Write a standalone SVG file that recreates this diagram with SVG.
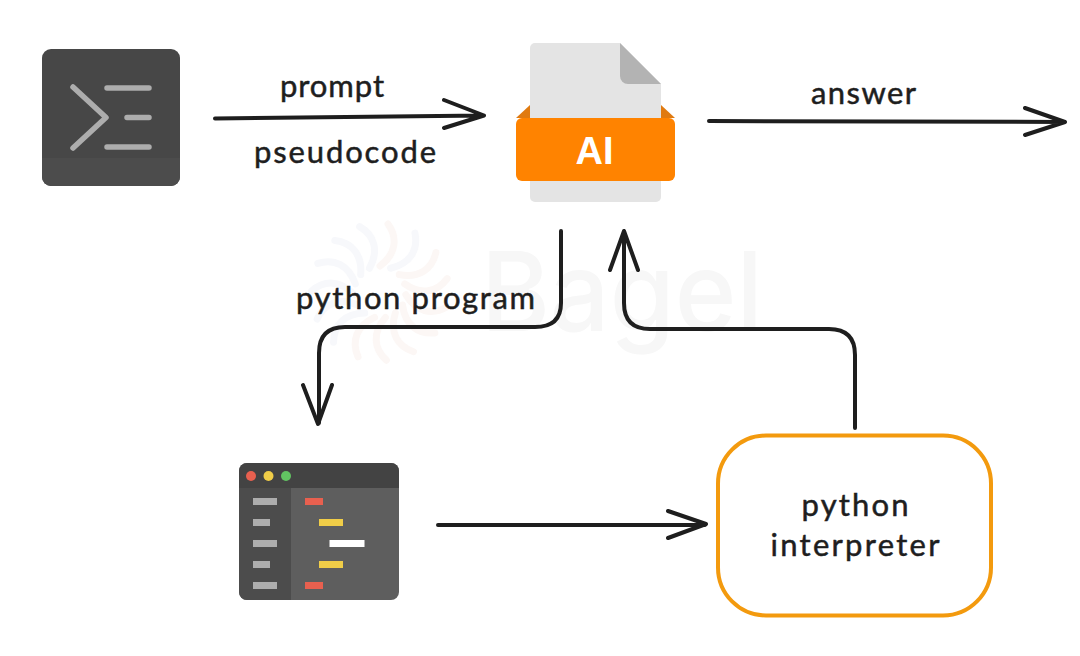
<svg xmlns="http://www.w3.org/2000/svg" width="1080" height="656" viewBox="0 0 1080 656">
  <style>
    .wire { fill: none; stroke: #1e1e1e; stroke-width: 4; stroke-linecap: round; stroke-linejoin: round; }
    .hand { font-family: "Lato", "Open Sans", sans-serif; font-size: 31px; fill: #1e1e1e; stroke: #1e1e1e; stroke-width: 0.5; }
    .glyph { fill: none; stroke: #adadad; stroke-width: 5.500; stroke-linecap: round; stroke-linejoin: round; }
    .side { fill: #adadad; }
    .red { fill: #e8604f; }
    .yellow { fill: #f0cd48; }
    .warm { stroke: #fcf7f5; }
    .cool { stroke: #f7f8fb; }
  </style>
  <defs>
    <!-- one blade of the swirl; copies are rotated about the origin -->
    <path id="blade" d="M0 -26C16 -38 18 -54 8 -68" fill="none" stroke-width="7" stroke-linecap="round"/>
  </defs>
  <rect width="1080" height="656" fill="#ffffff"/>

  <!-- faint maker's mark behind the flow -->
  <g id="watermark">
    <g transform="translate(380 292)">
      <use href="#blade" class="warm" transform="rotate(0)"/>
      <use href="#blade" class="cool" transform="rotate(24)"/>
      <use href="#blade" class="warm" transform="rotate(48)"/>
      <use href="#blade" class="warm" transform="rotate(72)"/>
      <use href="#blade" class="warm" transform="rotate(96)"/>
      <use href="#blade" class="warm" transform="rotate(120)"/>
      <use href="#blade" class="warm" transform="rotate(144)"/>
      <use href="#blade" class="warm" transform="rotate(168)"/>
      <use href="#blade" class="warm" transform="rotate(192)"/>
      <use href="#blade" class="cool" transform="rotate(216)"/>
      <use href="#blade" class="cool" transform="rotate(240)"/>
      <use href="#blade" class="cool" transform="rotate(264)"/>
      <use href="#blade" class="cool" transform="rotate(288)"/>
      <use href="#blade" class="cool" transform="rotate(312)"/>
      <use href="#blade" class="cool" transform="rotate(336)"/>
    </g>
    <text x="481" y="331" font-family="Inter, 'Liberation Sans', sans-serif" font-weight="500" font-size="110" fill="#f7f7f7" textLength="282" lengthAdjust="spacingAndGlyphs">Bagel</text>
  </g>

  <g id="terminal">
    <rect x="42" y="49" width="138" height="137" rx="9" fill="#474747"/>
    <path d="M42 158H180V177a9 9 0 0 1-9 9H51a9 9 0 0 1-9-9Z" fill="#4c4c4c"/>
    <path class="glyph" d="M73 87L106 117.500L73 148M107 88H149M127 117.500H149M107 147H149"/>
  </g>

  <g id="ai-file">
    <path d="M530 105L516 118H675L661 105Z" fill="#e07a10"/>
    <path d="M535 43H620L661 84V197a5 5 0 0 1-5 5H535a5 5 0 0 1-5-5V48a5 5 0 0 1 5-5Z" fill="#e4e4e4"/>
    <path d="M620 43L661 84H628a8 8 0 0 1-8-8Z" fill="#b3b3b3"/>
    <rect x="516" y="118" width="159" height="63" rx="6" fill="#ff8300"/>
    <text x="594.500" y="164" text-anchor="middle" font-family="'Liberation Sans', Arial, sans-serif" font-weight="700" font-size="38" fill="#ffffff">AI</text>
  </g>

  <g id="editor">
    <rect x="239" y="463" width="160" height="137" rx="8" fill="#5e5e5e"/>
    <path d="M239 488H291V600H247a8 8 0 0 1-8-8Z" fill="#4c4c4c"/>
    <path d="M247 463H391a8 8 0 0 1 8 8V488H239V471a8 8 0 0 1 8-8Z" fill="#434343"/>
    <circle cx="251" cy="476" r="5" fill="#e8604f"/>
    <circle cx="268.500" cy="476" r="5" fill="#f0cd48"/>
    <circle cx="286" cy="476" r="5" fill="#62c462"/>
    <rect class="side" x="253" y="498" width="24" height="7"/>
    <rect class="side" x="253" y="519" width="17" height="7"/>
    <rect class="side" x="253" y="540" width="24" height="7"/>
    <rect class="side" x="253" y="561" width="17" height="7"/>
    <rect class="side" x="253" y="582" width="24" height="7"/>
    <rect class="red" x="305" y="498" width="18" height="7"/>
    <rect class="yellow" x="319" y="519" width="24" height="7"/>
    <rect x="329.500" y="540" width="35" height="7" fill="#ffffff"/>
    <rect class="yellow" x="319" y="561" width="24" height="7"/>
    <rect class="red" x="305" y="582" width="18" height="7"/>
  </g>

  <g id="interpreter">
    <rect x="718" y="435.500" width="273" height="180" rx="48" fill="#ffffff" stroke="#f39a0e" stroke-width="4"/>
    <text class="hand" x="855" y="516" text-anchor="middle" textLength="107" lengthAdjust="spacing">python</text>
    <text class="hand" x="855" y="556" text-anchor="middle" textLength="169" lengthAdjust="spacing">interpreter</text>
  </g>

  <g id="connectors">
    <path class="wire" d="M215 118.500L484 115.500M444 100L484 115.500L444 128"/>
    <path class="wire" d="M709 121L1065 122M1025 108L1065 122L1025 135"/>
    <path class="wire" d="M561 231V303Q561 327 535 327H345Q319 327 319 353V423M303 385L318 424L332 385"/>
    <path class="wire" d="M855 428V355Q855 329 829 329H650Q624 329 624 303V232M610 270L624 231L638 270"/>
    <path class="wire" d="M438 525H705M668 511L706 524L668 538"/>
  </g>

  <g id="edge-labels">
    <text class="hand" x="280" y="97" textLength="104" lengthAdjust="spacing">prompt</text>
    <text class="hand" x="254" y="163" textLength="182" lengthAdjust="spacing">pseudocode</text>
    <text class="hand" x="811" y="104" textLength="105" lengthAdjust="spacing">answer</text>
    <text class="hand" x="296" y="309" textLength="239" lengthAdjust="spacing">python program</text>
  </g>
</svg>
